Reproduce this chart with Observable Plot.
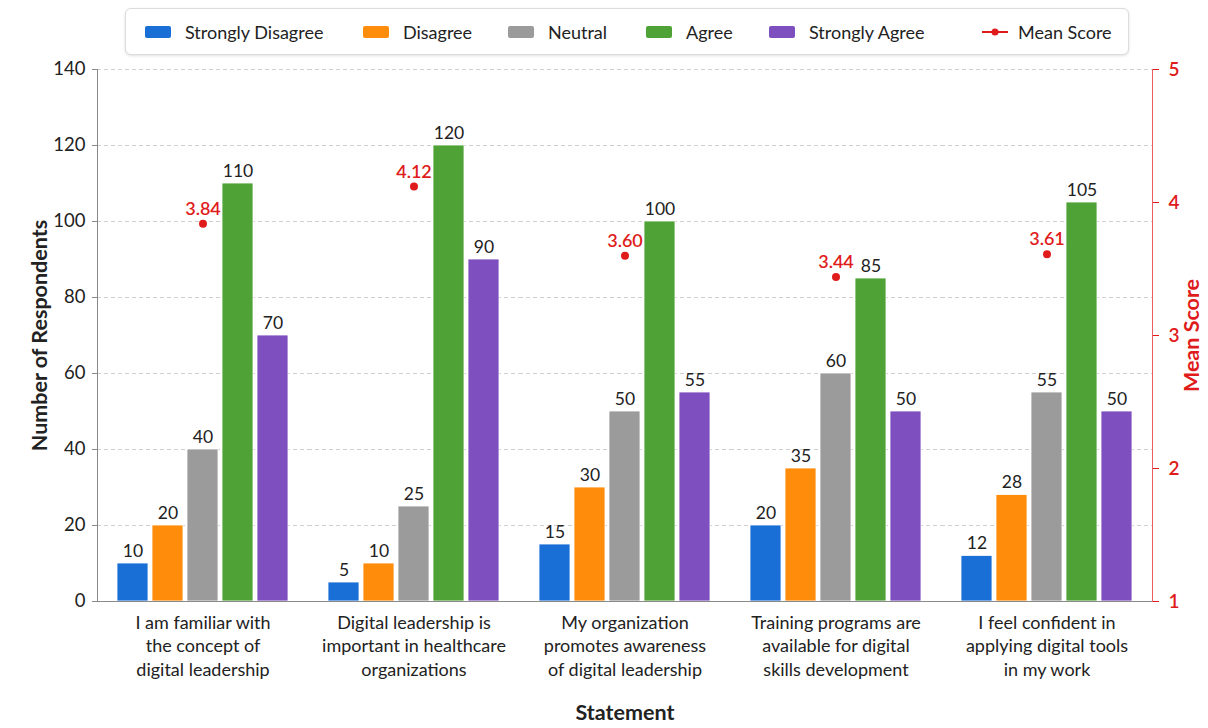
<!DOCTYPE html>
<html>
<head>
<meta charset="utf-8">
<script src="https://cdn.jsdelivr.net/npm/d3@7"></script>
<script src="https://cdn.jsdelivr.net/npm/@observablehq/plot@0.6"></script>
<style>
  html, body { margin: 0; padding: 0; background: #fff; }
  body { width: 1208px; height: 728px; overflow: hidden; font-family: Lato, "Noto Sans", sans-serif; color: #222; }
  #legend {
    position: absolute; left: 125px; top: 8px; width: 1004px; height: 47px;
    border: 1px solid #dcdcdc; border-radius: 6px; box-shadow: 0 1px 3px rgba(0,0,0,0.12);
    background: #fff; box-sizing: border-box;
  }
  .item { position: absolute; top: 0; height: 45px; display: flex; align-items: center; font-size: 18px; color: #222; white-space: nowrap; }
  .swatch { width: 26px; height: 12px; border-radius: 2px; margin-right: 14px; }
  .meanKey { width: 30px; height: 12px; margin-right: 8px; }
  #chart { position: absolute; left: 0; top: 58px; }
  #chart g[aria-label="y-axis label"] text,
  #chart g[aria-label="fx-axis label"] text { font-weight: 700; font-size: 21.5px; }
</style>
</head>
<body>
<div id="legend"></div>
<div id="chart"></div>
<script>
// Survey statements (x groups) and their wrapped tick labels
const statements = [
  "I am familiar with the concept of digital leadership",
  "Digital leadership is important in healthcare organizations",
  "My organization promotes awareness of digital leadership",
  "Training programs are available for digital skills development",
  "I feel confident in applying digital tools in my work"
];
const statementLabels = [
  "I am familiar with\nthe concept of\ndigital leadership",
  "Digital leadership is\nimportant in healthcare\norganizations",
  "My organization\npromotes awareness\nof digital leadership",
  "Training programs are\navailable for digital\nskills development",
  "I feel confident in\napplying digital tools\nin my work"
];

// Likert response categories and their colours
const responses = ["Strongly Disagree", "Disagree", "Neutral", "Agree", "Strongly Agree"];
const responseColors = ["#1a6fd6", "#ff8c0a", "#9b9b9b", "#4fa336", "#7e4fbf"];

// Respondent counts per statement, one array per response category
const stronglyDisagree = [10, 5, 15, 20, 12];
const disagree         = [20, 10, 30, 35, 28];
const neutral          = [40, 25, 50, 60, 55];
const agree            = [110, 120, 100, 85, 105];
const stronglyAgree    = [70, 90, 55, 50, 50];

// Mean score per statement (right axis, 1–5)
const meanScores = [3.84, 4.12, 3.60, 3.44, 3.61];

// Axis ticks
const countTicks = [0, 20, 40, 60, 80, 100, 120, 140];
const meanTicks = [1, 2, 3, 4, 5];

const meanColor = "#e01b1b";
const countMax = 140;
const meanMin = 1, meanMax = 5;
// map a mean score onto the respondent-count axis so both share one y scale
const meanToCount = m => (m - meanMin) / (meanMax - meanMin) * countMax;
const countToMean = c => meanMin + c / countMax * (meanMax - meanMin);

const series = [stronglyDisagree, disagree, neutral, agree, stronglyAgree];
const rows = statements.flatMap((s, i) =>
  responses.map((r, j) => ({statement: s, response: r, count: series[j][i]}))
);
const meanRows = statements.map((s, i) => ({statement: s, mean: meanScores[i]}));
const labelOf = new Map(statements.map((s, i) => [s, statementLabels[i]]));

// Legend
const legend = document.getElementById("legend");
const legendX = [19, 237, 382, 520, 643, 854];
responses.forEach((r, i) => {
  const it = document.createElement("div");
  it.className = "item";
  it.style.left = legendX[i] + "px";
  it.innerHTML = `<span class="swatch" style="background:${responseColors[i]}"></span><span>${r}</span>`;
  legend.appendChild(it);
});
{
  const it = document.createElement("div");
  it.className = "item";
  it.style.left = legendX[5] + "px";
  it.innerHTML = `<svg class="meanKey" viewBox="0 0 30 12"><line x1="2" y1="6" x2="28" y2="6" stroke="${meanColor}" stroke-width="2"/><circle cx="15" cy="6" r="3.5" fill="${meanColor}"/></svg><span>Mean Score</span>`;
  legend.appendChild(it);
}

const chart = Plot.plot({
  width: 1208,
  height: 670,
  marginTop: 11,
  marginLeft: 96,
  marginRight: 55,
  marginBottom: 127,
  style: {fontFamily: "Lato, 'Noto Sans', sans-serif", fontSize: "18px", color: "#222", background: "transparent"},
  fx: {domain: statements, padding: 0, axis: null},
  x: {domain: responses, axis: null, paddingInner: 0.12, paddingOuter: 0.55},
  y: {domain: [0, countMax], axis: null},
  color: {domain: responses, range: responseColors},
  marks: [
    Plot.gridY(countTicks.filter(d => d > 0), {stroke: "#cfcfcf", strokeOpacity: 1, strokeDasharray: "4,3"}),
    Plot.barY(rows, {fx: "statement", x: "response", y: "count", fill: "response", stroke: "#fff", strokeWidth: 0.8}),
    Plot.text(rows, {fx: "statement", x: "response", y: "count", text: d => String(d.count),
      lineAnchor: "bottom", dy: -7, fontSize: 17.5, fill: "#222"}),
    Plot.dot(meanRows, {fx: "statement", y: d => meanToCount(d.mean), r: 4, fill: meanColor, stroke: "none"}),
    Plot.text(meanRows, {fx: "statement", y: d => meanToCount(d.mean), text: d => d.mean.toFixed(2),
      lineAnchor: "bottom", dy: -9, fontSize: 18, fontWeight: 600, fill: meanColor}),
    Plot.ruleY([0], {stroke: "#8a8a8a", strokeWidth: 1.2}),
    Plot.frame({anchor: "left", stroke: "#8a8a8a", facetAnchor: "left"}),
    Plot.frame({anchor: "right", stroke: meanColor, strokeOpacity: 0.7, facetAnchor: "right"}),
    Plot.axisY({anchor: "left", ticks: countTicks, tickSize: 5, tickPadding: 7, stroke: "#8a8a8a", fontSize: 18.5,
      label: "Number of Respondents", labelAnchor: "center", labelArrow: "none", labelOffset: 66, color: "#222"}),
    Plot.axisY({anchor: "right", ticks: meanTicks.map(meanToCount), tickFormat: d => String(Math.round(countToMean(d))),
      tickSize: 6, tickPadding: 10, color: meanColor, fontSize: 19, fontWeight: 600,
      label: "Mean Score", labelAnchor: "center", labelArrow: "none", labelOffset: 46}),
    Plot.axisFx({anchor: "bottom", tickSize: 0, tickPadding: 10, lineHeight: 1.33, fontSize: 18,
      tickFormat: d => labelOf.get(d), label: "Statement", labelAnchor: "center", labelArrow: "none", labelOffset: 118})
  ]
});
document.getElementById("chart").appendChild(chart);
</script>
</body>
</html>
